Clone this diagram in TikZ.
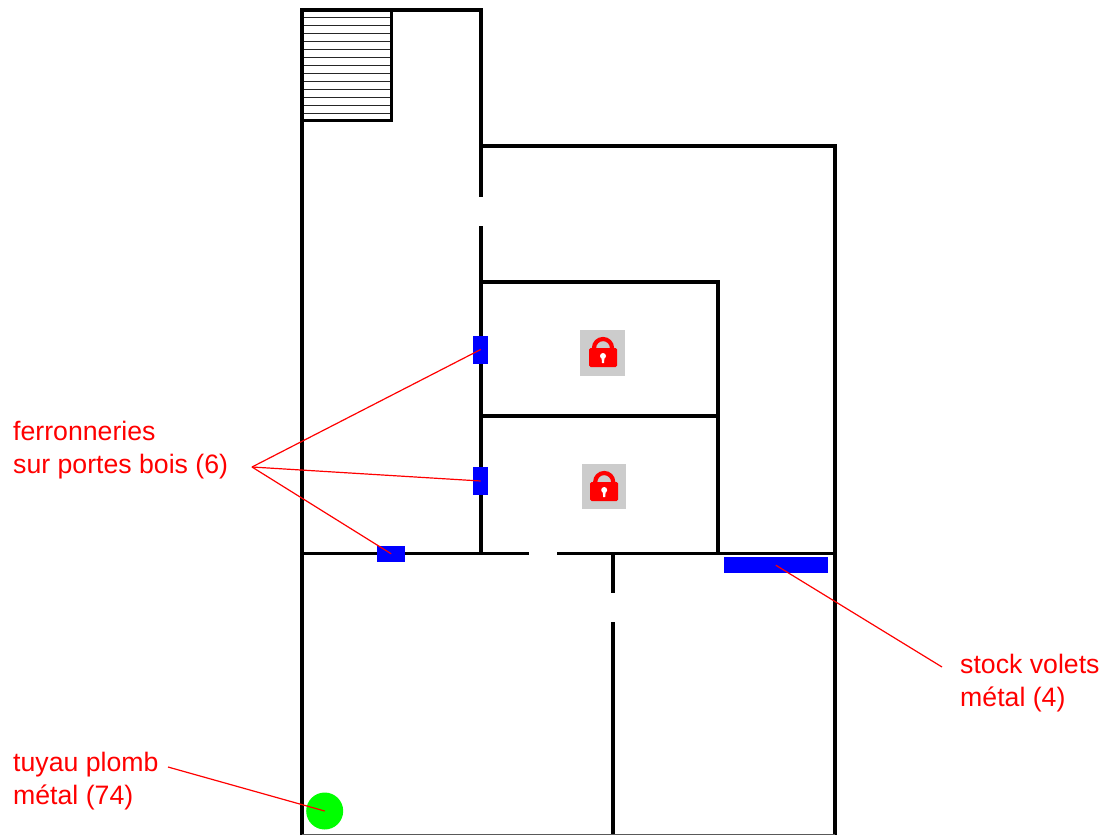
\documentclass[tikz,border=0pt]{standalone}
\usepackage{fontspec}
\setmainfont{Liberation Sans}
\definecolor{lockgrey}{RGB}{204,204,204}
\definecolor{doorblue}{RGB}{0,0,255}
\definecolor{pipegreen}{RGB}{0,255,0}
\tikzset{
  wall/.style={draw=black,line width=3.8pt,line cap=butt},
  thinwall/.style={draw=black,line width=2.2pt},
  tread/.style={draw=black!85,line width=1.1pt},
  metal/.style={fill=doorblue,draw=none,inner sep=0pt,minimum width=#1},
  leader/.style={draw=red,line width=1.2pt},
  lbl/.style={text=red,font=\fontsize{26.67}{33}\selectfont,align=left,inner sep=0pt,anchor=base west},
  lockbox/.style={fill=lockgrey,draw=none,inner sep=0pt}
}
\newcommand{\padlock}[2]{%
  \begin{scope}[shift={(#1,#2)}]
    \draw[red,line width=4.2pt] (-9,-3) -- (-9,-5) arc[start angle=180,end angle=360,radius=9] -- (9,-3);
    \fill[red,rounded corners=1.5pt] (-14,-5) rectangle (14,14);
    \fill[white] (0,3) circle[radius=3];
    \fill[white] (-1.6,3) -- (1.6,3) -- (1,10) -- (-1,10) -- cycle;
  \end{scope}}
\begin{document}
\begin{tikzpicture}[x=1pt,y=-1pt]
\useasboundingbox (0,0) rectangle (1107,835);
\fill[white] (0,0) rectangle (1107,835);
% stairs
\foreach \k in {0,...,12}{\draw[tread] (302,{17.7+7.95*\k}) -- (391,{17.7+7.95*\k});}
\draw[thinwall] (302,120.5) -- (391.5,120.5) -- (391.5,10);
% walls
\draw[wall] (302,835) -- (302,10) -- (481,10) -- (481,197);
\draw[wall] (481,226) -- (481,553);
\draw[wall] (479,146) -- (835,146) -- (835,835);
\draw[wall] (479,282) -- (718,282) -- (718,553);
\draw[wall] (479,416) -- (718,416);
\draw[wall] (302,553.5) -- (529,553.5);
\draw[wall] (557,553.5) -- (835,553.5);
\draw[wall] (613,553) -- (613,593);
\draw[wall] (613,622) -- (613,835);
\draw[draw=black!65,line width=1pt] (302,834.5) -- (835,834.5);
% metal parts
\node[metal=14.5pt,minimum height=28pt] (door1) at (480.7,349.5) {};
\node[metal=14.5pt,minimum height=28pt] (door2) at (480.7,481) {};
\node[metal=27.5pt,minimum height=15.5pt] (door3) at (391.2,553.8) {};
\node[metal=103.5pt,minimum height=15.5pt] (stock) at (775.8,565.2) {};
\node[circle,fill=pipegreen,draw=none,inner sep=0pt,minimum size=37pt] (pipe) at (324.7,811) {};
% locks
\node[lockbox,minimum width=45pt,minimum height=46pt] (lock1) at (602.7,353) {};
\node[lockbox,minimum width=44.5pt,minimum height=45.5pt] (lock2) at (604,486.7) {};
\padlock{603}{353}
\padlock{604.2}{487}
% labels
\node[lbl] (ferr) at (13,473) {ferronneries\\sur portes bois (6)};
\node[lbl] (volets) at (960,706) {stock volets\\métal (4)};
\node[lbl] (tuyau) at (13,804) {tuyau plomb\\métal (74)};
% leaders
\coordinate (fork) at (252,467);
\coordinate (voletsend) at (942,667);
\coordinate (tuyauend) at (168,767);
\draw[leader] (fork) -- (door1.center);
\draw[leader] (fork) -- (door2.center);
\draw[leader] (fork) -- (door3.center);
\draw[leader] (voletsend) -- (stock.center);
\draw[leader] (tuyauend) -- (pipe.center);
\end{tikzpicture}
\end{document}
